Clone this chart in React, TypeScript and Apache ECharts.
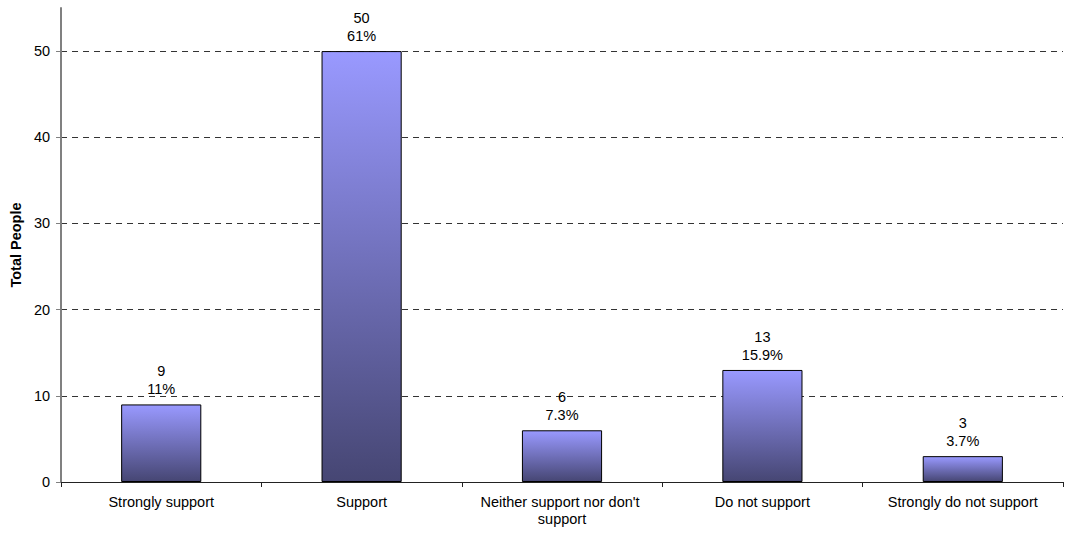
import React, { useEffect, useRef } from "react";
import * as echarts from "echarts";

const categories = [
  "Strongly support",
  "Support",
  "Neither support nor don't support",
  "Do not support",
  "Strongly do not support",
];
const totals = [9, 50, 6, 13, 3];
const respondents = 82;
const yTicks = [0, 10, 20, 30, 40, 50];

export default function App() {
  const ref = useRef<HTMLDivElement>(null);
  useEffect(() => {
    if (!ref.current) return;
    const chart = echarts.init(ref.current, null, { renderer: "svg" });
    const pct = (v: number) => {
      let s = ((v / respondents) * 100).toFixed(1);
      if (s.endsWith(".0")) s = s.slice(0, -2);
      return s + "%";
    };
    const fs = 14.5;
    chart.setOption({
      animation: false,
      textStyle: { fontFamily: "Liberation Sans, Arial, sans-serif" },
      grid: { left: 61, right: 4, top: 8, bottom: 52 },
      xAxis: {
        type: "category",
        data: categories,
        axisLine: { lineStyle: { color: "#222", width: 1 } },
        axisTick: { show: true, length: 5, lineStyle: { color: "#222" } },
        axisLabel: {
          color: "#000",
          fontSize: fs,
          margin: 11,
          interval: 0,
          width: 185,
          overflow: "break",
          lineHeight: 17,
        },
      },
      yAxis: {
        type: "value",
        min: 0,
        max: 55,
        interval: 10,
        name: "Total People",
        nameLocation: "middle",
        nameGap: 34,
        nameTextStyle: { fontWeight: "bold", fontSize: fs, color: "#000" },
        axisLine: { show: true, lineStyle: { color: "#808080", width: 2 } },
        axisTick: {
          show: true,
          length: 5,
          customValues: yTicks,
          lineStyle: { color: "#808080" },
        },
        axisLabel: { color: "#000", fontSize: fs, customValues: yTicks, margin: 11 },
        splitLine: {
          show: true,
          lineStyle: {
            color: ["#333", "#333", "#333", "#333", "#333", "#333", "transparent"],
            type: [6, 5],
            width: 1,
          },
        },
      },
      series: [
        {
          type: "bar",
          data: totals,
          barWidth: "40%",
          itemStyle: {
            borderColor: "#000",
            borderWidth: 1,
            color: new echarts.graphic.LinearGradient(0, 0, 0, 1, [
              { offset: 0, color: "#9999ff" },
              { offset: 1, color: "#464673" },
            ]),
          },
          label: {
            show: true,
            position: "top",
            distance: 6,
            color: "#000",
            fontSize: fs,
            lineHeight: 18,
            formatter: (p: any) => `${p.value}\n${pct(p.value)}`,
          },
        },
      ],
    });
    return () => chart.dispose();
  }, []);
  return (
    <div
      ref={ref}
      style={{ position: "absolute", left: 0, top: 0, width: 1067, height: 534 }}
    />
  );
}
